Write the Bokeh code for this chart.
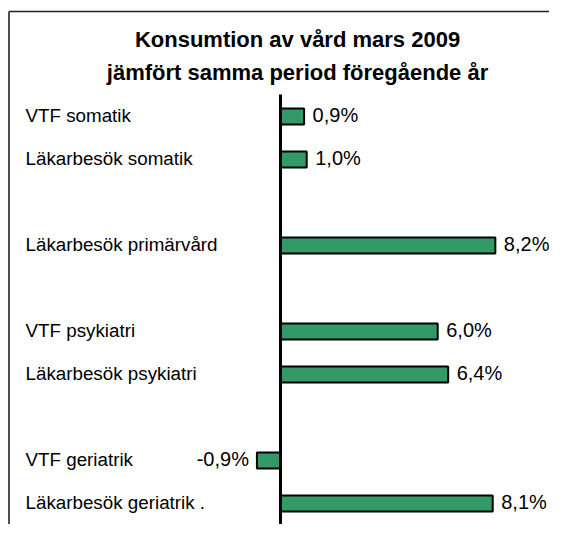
from bokeh.plotting import figure
from bokeh.models import Range1d, ColumnDataSource
from bokeh.core.properties import value
from bokeh.embed import file_html
from bokeh.resources import INLINE

# ---- data ----
title_lines = ["Konsumtion av vård mars 2009", "jämfört samma period föregående år"]
groups = [
    ["VTF somatik", "Läkarbesök somatik"],
    ["Läkarbesök primärvård"],
    ["VTF  psykiatri", "Läkarbesök psykiatri"],
    ["VTF geriatrik", "Läkarbesök geriatrik  ."],
]
group_values = [
    [0.9, 1.0],
    [8.2],
    [6.0, 6.4],
    [-0.9, 8.1],
]

# ---- layout (pixels) ----
W, H = 549, 524
X0_PX, SX = 280.0, 26.2      # zero line position, px per percent
Y0_PX, SY = 116.0, 43.0      # first slot centre, px per slot
FONT = "Liberation Sans"
GREEN = "#339966"
TXT_DY = -7.0                # text baseline correction


def px_x(cx):
    return (cx - X0_PX) / SX


def px_y(cy):
    return (cy - Y0_PX) / SY


# slot positions: one empty slot between groups
labels, values, slots = [], [], []
s = 0
for g_labels, g_vals in zip(groups, group_values):
    for lab, v in zip(g_labels, g_vals):
        labels.append(lab)
        values.append(v)
        slots.append(s)
        s += 1
    s += 1
last_slot = slots[-1]

fmt = [f"{v:.1f}".replace(".", ",") + "%" for v in values]

p = figure(width=W, height=H,
           x_range=Range1d(px_x(0), px_x(W)),
           y_range=Range1d(px_y(H), px_y(0)),
           x_axis_type=None, y_axis_type=None,
           output_backend="svg", toolbar_location=None,
           min_border=0, outline_line_color=None,
           background_fill_color="white", border_fill_color="white")
p.grid.visible = False

# outer border (top and left edges)
p.segment(x0=[px_x(8.5), px_x(8.5)], y0=[px_y(11), px_y(11)],
          x1=[px_x(8.5), px_x(W)], y1=[px_y(H), px_y(11)],
          line_color="#222222", line_width=1.6)

# title
for i, t in enumerate(title_lines):
    p.text(x=[px_x(297)], y=[px_y(46 + 33 * i + TXT_DY)], text=[t],
           text_font=value(FONT), text_font_style="bold",
           text_font_size="22px", text_align="center",
           text_baseline="alphabetic", text_color="black")

src = ColumnDataSource(dict(label=labels, val=values, slot=slots, txt=fmt,
                            lab_y=[sl + (6.0 + TXT_DY) / SY for sl in slots]))

# bars
p.hbar(y="slot", left=0, right="val", height=0.37, source=src,
       fill_color=GREEN, line_color="black", line_width=2)

# zero line
p.line(x=[0, 0], y=[px_y(94), last_slot + 0.58],
       line_color="black", line_width=3)

# category labels
p.text(x=px_x(25), y="lab_y", text="label", source=src,
       text_font=value(FONT), text_font_size="18.8px",
       text_align="left", text_baseline="alphabetic", text_color="black")

# value labels
vy = (5.0 + TXT_DY) / SY
pos = ColumnDataSource(dict(
    x=[v for v in values if v >= 0],
    y=[sl + vy for v, sl in zip(values, slots) if v >= 0],
    t=[f for v, f in zip(values, fmt) if v >= 0]))
neg = ColumnDataSource(dict(
    x=[v for v in values if v < 0],
    y=[sl + vy for v, sl in zip(values, slots) if v < 0],
    t=[f for v, f in zip(values, fmt) if v < 0]))
p.text(x="x", y="y", text="t", source=pos, x_offset=8.5,
       text_font=value(FONT), text_font_size="20px",
       text_align="left", text_baseline="alphabetic", text_color="black")
p.text(x="x", y="y", text="t", source=neg, x_offset=-8,
       text_font=value(FONT), text_font_size="20px",
       text_align="right", text_baseline="alphabetic", text_color="black")

open("out.html", "w").write(file_html(p, INLINE))
